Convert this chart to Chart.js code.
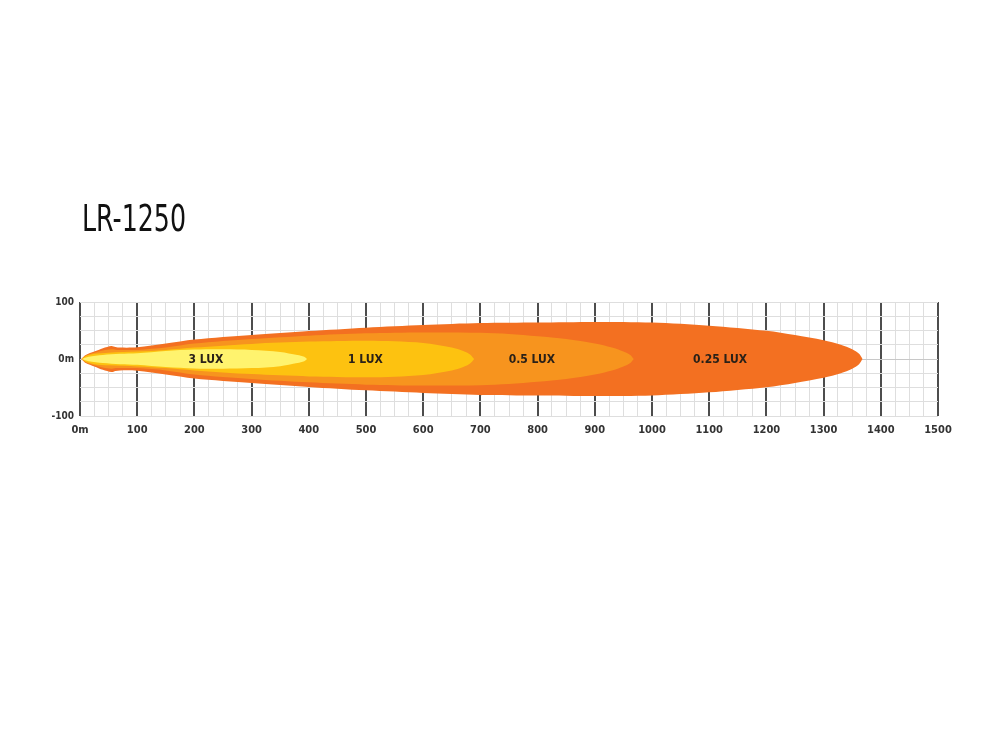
<!DOCTYPE html>
<html>
<head>
<meta charset="utf-8">
<script src="https://cdn.jsdelivr.net/npm/chart.js@4/dist/chart.umd.min.js"></script>
<style>
  html, body { margin: 0; padding: 0; background: #fff; }
  #wrap { position: relative; width: 1000px; height: 750px; }
  #title {
    position: absolute; left: 82px; top: 200px;
    font-family: 'DejaVu Sans Condensed', sans-serif;
    font-size: 37px; line-height: 37px; color: #111;
    transform: scaleX(0.76); transform-origin: left top;
    white-space: nowrap;
  }
  canvas { position: absolute; left: 0; top: 0; }
</style>
</head>
<body>
<div id="wrap">
  <canvas id="beam" width="1000" height="750"></canvas>
  <div id="title">LR-1250</div>
</div>
<script>
// distance (m) and half-width (m) of each lux contour
const lux025X = [2, 10, 25, 40, 55, 62, 70, 100, 150, 200, 300, 400, 500, 600, 700, 800, 900, 1000, 1100, 1200, 1250, 1300, 1330, 1350, 1362, 1368];
const lux025W = [0, 7, 13, 19, 23, 21, 20, 20.5, 27, 34, 42, 49, 55, 59.5, 63, 64, 65, 64, 58.5, 49.5, 42, 33, 25, 17, 9, 0];

const lux05X = [3, 10, 25, 40, 55, 65, 100, 150, 200, 300, 400, 500, 600, 700, 750, 800, 850, 900, 930, 950, 962, 968];
const lux05W = [0, 6, 11, 15, 17, 16, 16, 20, 27, 35, 41, 45, 46.5, 46, 44, 40, 35, 27, 20, 13, 7, 0];

const lux1X = [3, 10, 25, 50, 100, 150, 200, 300, 400, 500, 550, 600, 650, 670, 682, 689];
const lux1W = [0, 5, 9, 11, 13, 16, 20, 26.5, 30.5, 32, 31, 28, 20, 14, 8, 0];

const lux3X = [3, 15, 40, 70, 100, 150, 200, 250, 300, 350, 380, 392, 397];
const lux3W = [0, 4, 7, 9, 10, 14, 16.5, 17, 16, 12.5, 7, 4, 0];

const zoneLabels = ['0.25 LUX', '0.5 LUX', '1 LUX', '3 LUX'];
const zoneLabelX = [1119, 790, 499, 220];
const zoneColors = ['#F37021', '#F7941E', '#FDC210', '#FFF36E'];

const xTickLabels = { 0: '0m' };
const yTickLabels = { 100: '100', 0: '0m', '-100': '-100' };

const FONT = "'DejaVu Sans Condensed', sans-serif";

function outline(xs, ws) {
  const top = xs.map((x, i) => ({ x: x, y: ws[i] }));
  const bottom = xs.map((x, i) => ({ x: x, y: -ws[i] })).reverse();
  return top.concat(bottom);
}

const zones = [
  outline(lux025X, lux025W),
  outline(lux05X, lux05W),
  outline(lux1X, lux1W),
  outline(lux3X, lux3W)
];

const zoneText = {
  id: 'zoneText',
  afterDatasetsDraw(chart) {
    const { ctx, scales } = chart;
    ctx.save();
    ctx.font = 'bold 12px ' + FONT;
    ctx.fillStyle = '#2a2118';
    ctx.textAlign = 'center';
    ctx.textBaseline = 'middle';
    zoneLabels.forEach((t, i) => {
      ctx.fillText(t, scales.x.getPixelForValue(zoneLabelX[i]), scales.y.getPixelForValue(0) + 1);
    });
    ctx.restore();
  }
};

new Chart(document.getElementById('beam'), {
  type: 'line',
  data: {
    datasets: zones.map((pts, i) => ({
      data: pts,
      borderWidth: 0,
      borderColor: zoneColors[i],
      backgroundColor: zoneColors[i],
      fill: 'shape',
      pointRadius: 0,
      tension: 0.3,
      order: zones.length - i
    }))
  },
  options: {
    responsive: false,
    animation: false,
    layout: { padding: { top: 302, right: 62, bottom: 304, left: 40 } },
    plugins: {
      legend: { display: false },
      tooltip: { enabled: false }
    },
    scales: {
      x: {
        type: 'linear',
        min: 0,
        max: 1500,
        afterFit(scale) { scale.height = 30; },
        border: { display: false },
        grid: {
          drawTicks: false,
          color: c => (c.tick.value % 100 === 0 ? '#4d4d4d' : '#dedede'),
          lineWidth: c => (c.tick.value % 100 === 0 ? 2 : 1)
        },
        ticks: {
          stepSize: 25,
          autoSkip: false,
          maxTicksLimit: 100,
          maxRotation: 0,
          padding: 8,
          color: '#333',
          font: { family: FONT, size: 11, weight: 'bold' },
          callback: v => (v % 100 === 0 ? (xTickLabels[v] || String(v)) : '')
        }
      },
      y: {
        type: 'linear',
        min: -100,
        max: 100,
        afterFit(scale) { scale.width = 40; },
        border: { display: false },
        grid: {
          drawTicks: false,
          color: c => (c.tick.value === 0 ? '#c8c8c8' : '#dedede'),
          lineWidth: 1
        },
        ticks: {
          stepSize: 25,
          autoSkip: false,
          padding: 6,
          color: '#333',
          font: { family: FONT, size: 10, weight: 'bold' },
          callback: v => (yTickLabels[v] !== undefined ? yTickLabels[v] : '')
        }
      }
    }
  },
  plugins: [zoneText]
});
</script>
</body>
</html>
